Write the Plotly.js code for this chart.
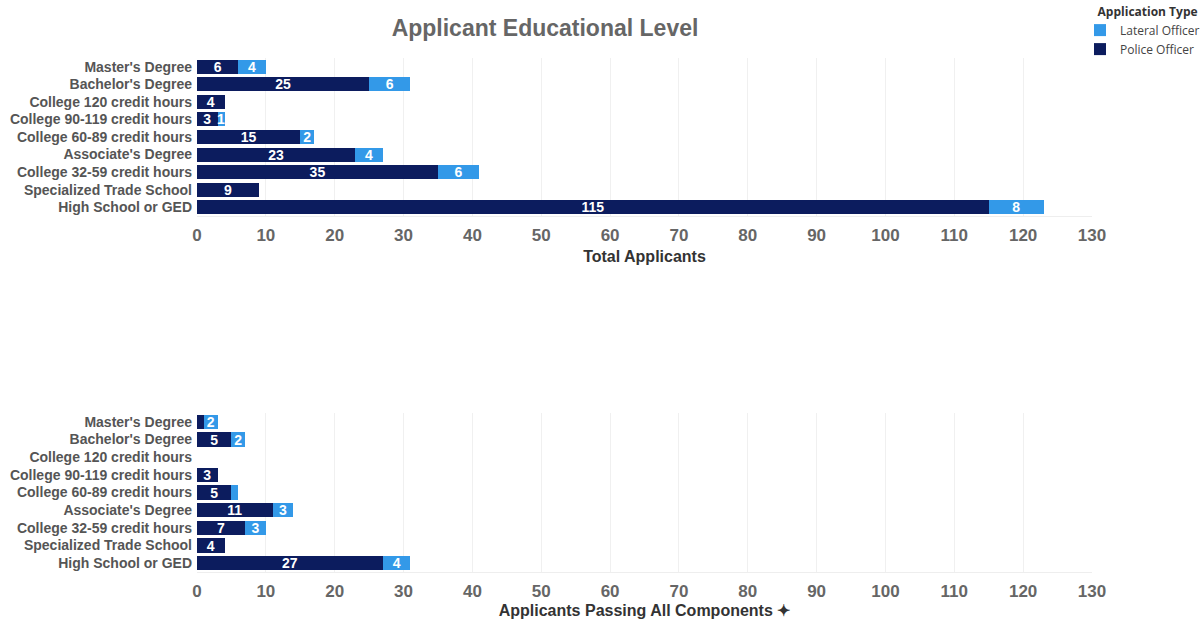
<!DOCTYPE html>
<html>
<head>
<meta charset="utf-8">
<script src="https://cdn.plot.ly/plotly-3.0.1.min.js"></script>
<style>html,body{margin:0;padding:0;background:#fff;}#chart{width:1204px;height:619px;}</style>
</head>
<body>
<div id="chart"></div>
<script>
const categories = ["Master's Degree","Bachelor's Degree","College 120 credit hours","College 90-119 credit hours","College 60-89 credit hours","Associate's Degree","College 32-59 credit hours","Specialized Trade School","High School or GED"];

// Total Applicants
const totalPolice  = [6, 25, 4, 3, 15, 23, 35, 9, 115];
const totalLateral = [4, 6, 0, 1, 2, 4, 6, 0, 8];
// Applicants Passing All Components
const passPolice  = [1, 5, 0, 3, 5, 11, 7, 4, 27];
const passLateral = [2, 2, 0, 0, 1, 3, 3, 0, 4];
// Labels as shown in the bars (blank where none is shown)
const passPoliceLabels  = ["", "5", "", "3", "5", "11", "7", "4", "27"];
const passLateralLabels = ["2", "2", "", "", "", "3", "3", "", "4"];

const tickVals = [0,10,20,30,40,50,60,70,80,90,100,110,120,130];
const NAVY = '#0c1c5e', BLUE = '#3399e8';
const FONT = 'Liberation Sans, Arial, sans-serif';

function lbl(arr){ return arr.map(v => v > 0 ? String(v) : ''); }

function bar(x, text, name, color, xa, ya, showleg){
  return {
    type:'bar', orientation:'h', y:categories, x:x, name:name,
    xaxis:xa, yaxis:ya, legendgroup:name, showlegend:showleg,
    marker:{color:color, line:{width:0}},
    text:text, textposition:'inside', insidetextanchor:'middle', textangle:0,
    constraintext:'none', cliponaxis:false,
    textfont:{family:FONT, size:14, color:'#ffffff', weight:'bold'},
    hoverinfo:'skip'
  };
}

const data = [
  bar(totalPolice, lbl(totalPolice), 'Police Officer', NAVY, 'x', 'y', true),
  bar(totalLateral, lbl(totalLateral), 'Lateral Officer', BLUE, 'x', 'y', true),
  bar(passPolice, passPoliceLabels, 'Police Officer', NAVY, 'x2', 'y2', false),
  bar(passLateral, passLateralLabels, 'Lateral Officer', BLUE, 'x2', 'y2', false)
];

function xaxis(title, anchor){
  return {
    anchor:anchor, range:[0,130], tickvals:tickVals, ticks:'',
    showgrid:true, gridcolor:'#f0f0f0', gridwidth:1, zeroline:false,
    showline:true, linecolor:'#eeeeee', linewidth:1,
    tickfont:{family:FONT, size:17, color:'#666666', weight:'bold'},
    ticklabelstandoff:4, fixedrange:true,
    title:{text:title, standoff:6, font:{family:FONT, size:16, color:'#333333', weight:'bold'}}
  };
}
function yaxis(domain, anchor){
  return {
    domain:domain, anchor:anchor, type:'category',
    categoryorder:'array', categoryarray:categories, autorange:'reversed',
    ticks:'', showgrid:false, zeroline:false, showline:false,
    tickfont:{family:FONT, size:14, color:'#555555', weight:'bold'},
    ticklabelstandoff:4, fixedrange:true
  };
}

const layout = {
  width:1204, height:619,
  margin:{l:197, r:112, t:0, b:0, autoexpand:false},
  paper_bgcolor:'#ffffff', plot_bgcolor:'#ffffff',
  barmode:'stack', bargap:0.2,
  showlegend:true,
  legend:{
    x:(1080-197)/895, y:1.0, xanchor:'left', yanchor:'top',
    traceorder:'reversed',
    title:{text:'\u00a0\u00a0\u00a0\u00a0\u00a0Application Type', font:{family:'Open Sans, sans-serif', size:12, color:'#333333', weight:'bold'}},
    font:{family:'Open Sans, sans-serif', size:12, color:'#444444'},
    bgcolor:'rgba(0,0,0,0)', itemwidth:30, tracegroupgap:0
  },
  title:{text:'Applicant Educational Level', x:(545-197)/895, xanchor:'center', xref:'paper', y:1-28/619, yanchor:'middle', yref:'container',
    font:{family:FONT, size:23, color:'#666666', weight:'bold'}},
  xaxis: xaxis('Total Applicants', 'y'),
  yaxis: yaxis([1-216/619, 1-58/619], 'x'),
  xaxis2: xaxis('Applicants Passing All Components ✦', 'y2'),
  yaxis2: yaxis([1-572/619, 1-413/619], 'x2')
};

Plotly.newPlot('chart', data, layout, {displayModeBar:false, staticPlot:true});
</script>
</body>
</html>
